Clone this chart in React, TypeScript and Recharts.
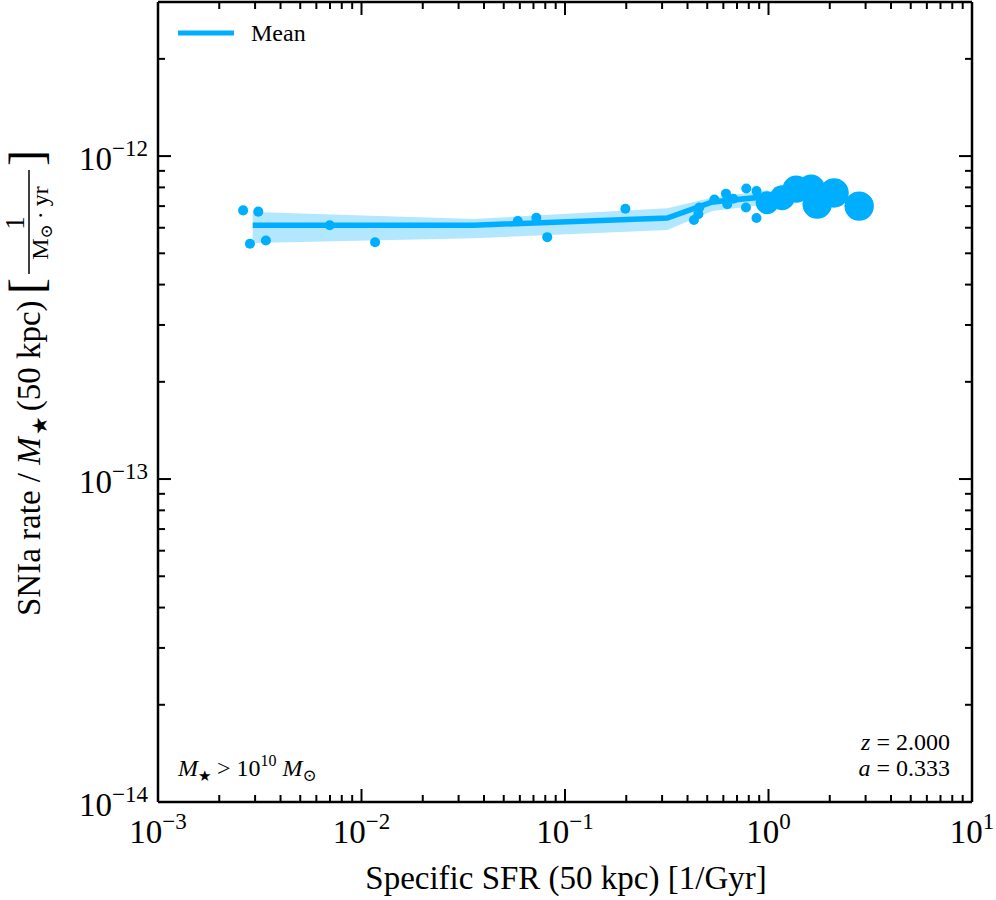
import React from 'react';
import { ComposedChart, XAxis, YAxis, ZAxis, Line, Area, Scatter, Customized } from 'recharts';

// mean relation and its spread
const meanX = [0.00292, 0.0356, 0.318, 0.53, 1.0];
const meanY = [6.11e-13, 6.11e-13, 6.43e-13, 7.21e-13, 7.5e-13];
const bandLo = [5.38e-13, 5.57e-13, 5.9e-13, 6.76e-13, 7.1e-13];
const bandHi = [6.71e-13, 6.39e-13, 6.9e-13, 7.45e-13, 7.85e-13];

// individual galaxies (w = marker weight)
const galX = [0.00262, 0.00311, 0.00283, 0.00339, 0.00698, 0.01166, 0.0586, 0.0723, 0.0818, 0.198, 0.43, 0.452, 0.457, 0.542, 0.618, 0.627, 0.671, 0.778, 0.775, 0.873, 0.873, 0.986, 1.167, 1.368, 1.62, 1.735, 2.1, 2.79];
const galY = [6.79e-13, 6.73e-13, 5.35e-13, 5.48e-13, 6.11e-13, 5.41e-13, 6.29e-13, 6.44e-13, 5.61e-13, 6.87e-13, 6.34e-13, 6.61e-13, 6.93e-13, 7.34e-13, 7.65e-13, 7.09e-13, 7.38e-13, 7.94e-13, 6.93e-13, 7.79e-13, 6.43e-13, 7.17e-13, 7.43e-13, 7.9e-13, 7.96e-13, 7.1e-13, 7.69e-13, 7.0e-13];
const galW = [1, 1, 1, 1, 1, 1, 1, 1, 1, 1, 1, 1, 1, 1, 1, 1, 1, 1, 1, 1, 1, 6, 7.2, 8.6, 8.6, 10, 10, 10];

const xTicks = [1e-3, 1e-2, 1e-1, 1, 10].flatMap((d, i, a) =>
  i < a.length - 1 ? [1, 2, 3, 4, 5, 6, 7, 8, 9].map((m) => m * d) : [d]
);
const yTicks = [
  ...[1e-14, 1e-13].flatMap((d) => [1, 2, 3, 4, 5, 6, 7, 8, 9].map((m) => m * d)),
  1e-12, 2e-12, 3e-12,
];

const meanData = meanX.map((x, i) => ({ x, y: meanY[i], band: [bandLo[i], bandHi[i]] }));
const galData = galX.map((x, i) => ({ x, y: galY[i], w: galW[i] }));

const BLUE = '#00aeff';
const SERIF = '"Liberation Serif", "DejaVu Serif", serif';
const TICK_FS = 33;
const SUP_FS = 23;

const isMajor = (v: number) => {
  const e = Math.log10(v);
  return Math.abs(e - Math.round(e)) < 1e-6;
};
const expOf = (v: number) => {
  const e = Math.round(Math.log10(v));
  return e < 0 ? '\u2212' + Math.abs(e) : String(e);
};

const Pow = ({ v }: { v: number }) => (
  <>
    10<tspan dy={-14} fontSize={SUP_FS}>{expOf(v)}</tspan>
  </>
);

function BottomTick(p: any) {
  const major = isMajor(p.payload.value);
  return (
    <g>
      <line x1={p.x} x2={p.x} y1={p.y} y2={p.y - (major ? 13 : 7)} stroke="#000" strokeWidth={2} />
      {major && (
        <text x={p.x} y={p.y + 41} textAnchor="middle" fontFamily={SERIF} fontSize={TICK_FS} fill="#000">
          <Pow v={p.payload.value} />
        </text>
      )}
    </g>
  );
}

function TopTick(p: any) {
  const major = isMajor(p.payload.value);
  return <line x1={p.x} x2={p.x} y1={p.y} y2={p.y + (major ? 13 : 7)} stroke="#000" strokeWidth={2} />;
}

function LeftTick(p: any) {
  const major = isMajor(p.payload.value);
  return (
    <g>
      <line x1={p.x} x2={p.x + (major ? 13 : 7)} y1={p.y} y2={p.y} stroke="#000" strokeWidth={2} />
      {major && (
        <text x={p.x - 10} y={p.y + 14} textAnchor="end" fontFamily={SERIF} fontSize={TICK_FS} fill="#000">
          <Pow v={p.payload.value} />
        </text>
      )}
    </g>
  );
}

function RightTick(p: any) {
  const major = isMajor(p.payload.value);
  return <line x1={p.x} x2={p.x - (major ? 13 : 7)} y1={p.y} y2={p.y} stroke="#000" strokeWidth={2} />;
}

function Texts() {
  return (
    <g fontFamily={SERIF} fill="#000">
      {/* legend */}
      <line x1={178} x2={234} y1={33} y2={33} stroke={BLUE} strokeWidth={5} />
      <text x={251} y={41} fontSize={24}>Mean</text>

      {/* mass cut */}
      <text x={178} y={776} fontSize={24}>
        <tspan fontStyle="italic">M</tspan>
        <tspan dy={5} fontSize={15}>{'\u2605'}</tspan>
        <tspan dy={-5}>{' > 10'}</tspan>
        <tspan dy={-10} fontSize={16}>10</tspan>
        <tspan dy={10}>{' '}</tspan>
        <tspan fontStyle="italic">M</tspan>
        <tspan dy={5} fontSize={17}>{'\u2299'}</tspan>
      </text>

      {/* redshift */}
      <text x={950} y={750} fontSize={24} textAnchor="end">
        <tspan fontStyle="italic">z</tspan> = 2.000
      </text>
      <text x={950} y={776} fontSize={24} textAnchor="end">
        <tspan fontStyle="italic">a</tspan> = 0.333
      </text>

      {/* x label */}
      <text x={566} y={889} fontSize={33} textAnchor="middle">Specific SFR (50 kpc) [1/Gyr]</text>

      {/* y label */}
      <g transform="translate(40, 616) rotate(-90)">
        <text x={0} y={0} fontSize={33}>
          SNIa rate / <tspan fontStyle="italic">M</tspan>
          <tspan dx={2} dy={7} fontSize={21}>{'\u2605'}</tspan>
          <tspan dx={5} dy={-7}>{'(50 kpc)'}</tspan>
        </text>
        <text x={322} y={2} fontSize={48}>[</text>
        <text x={393} y={-16} fontSize={27} textAnchor="middle">1</text>
        <line x1={342} x2={446} y1={-11} y2={-11} stroke="#000" strokeWidth={1.5} />
        <text x={393} y={8} fontSize={24} textAnchor="middle">
          M<tspan dy={4} fontSize={17}>{'\u2299'}</tspan>
          <tspan dx={5} dy={-4}>{'\u00b7'}</tspan>
          <tspan dx={5}>yr</tspan>
        </text>
        <text x={450} y={2} fontSize={48}>]</text>
      </g>
    </g>
  );
}

export default function App() {
  return (
    <div style={{ position: 'absolute', left: 0, top: 0, background: '#fff' }}>
      <ComposedChart width={996} height={900} margin={{ top: 1, right: 23, bottom: 97, left: 157 }}>
        <XAxis
          xAxisId="b" type="number" dataKey="x" scale="log" domain={[1e-3, 10]} allowDataOverflow
          ticks={xTicks} interval={0} height={1} tickSize={0} tickMargin={0} tickLine={false}
          axisLine={{ stroke: '#000', strokeWidth: 2.5 }} tick={BottomTick}
        />
        <XAxis
          xAxisId="t" orientation="top" type="number" dataKey="x" scale="log" domain={[1e-3, 10]} allowDataOverflow
          ticks={xTicks} interval={0} height={1} tickSize={0} tickMargin={0} tickLine={false}
          axisLine={{ stroke: '#000', strokeWidth: 2.5 }} tick={TopTick}
        />
        <YAxis
          yAxisId="l" type="number" dataKey="y" scale="log" domain={[1e-14, 3e-12]} allowDataOverflow
          ticks={yTicks} interval={0} width={1} tickSize={0} tickMargin={0} tickLine={false}
          axisLine={{ stroke: '#000', strokeWidth: 2.5 }} tick={LeftTick}
        />
        <YAxis
          yAxisId="r" orientation="right" type="number" dataKey="y" scale="log" domain={[1e-14, 3e-12]} allowDataOverflow
          ticks={yTicks} interval={0} width={1} tickSize={0} tickMargin={0} tickLine={false}
          axisLine={{ stroke: '#000', strokeWidth: 2.5 }} tick={RightTick}
        />
        <ZAxis dataKey="w" type="number" domain={[1, 10]} range={[79, 680]} />
        <Area
          xAxisId="b" yAxisId="l" data={meanData} dataKey="band" type="linear"
          stroke="none" fill={BLUE} fillOpacity={0.3} isAnimationActive={false}
        />
        <Line
          xAxisId="b" yAxisId="l" data={meanData} dataKey="y" type="linear"
          stroke={BLUE} strokeWidth={5.5} dot={false} isAnimationActive={false}
        />
        <Scatter xAxisId="b" yAxisId="l" data={galData} dataKey="y" fill={BLUE} isAnimationActive={false} />
        <Customized component={Texts} />
      </ComposedChart>
    </div>
  );
}
